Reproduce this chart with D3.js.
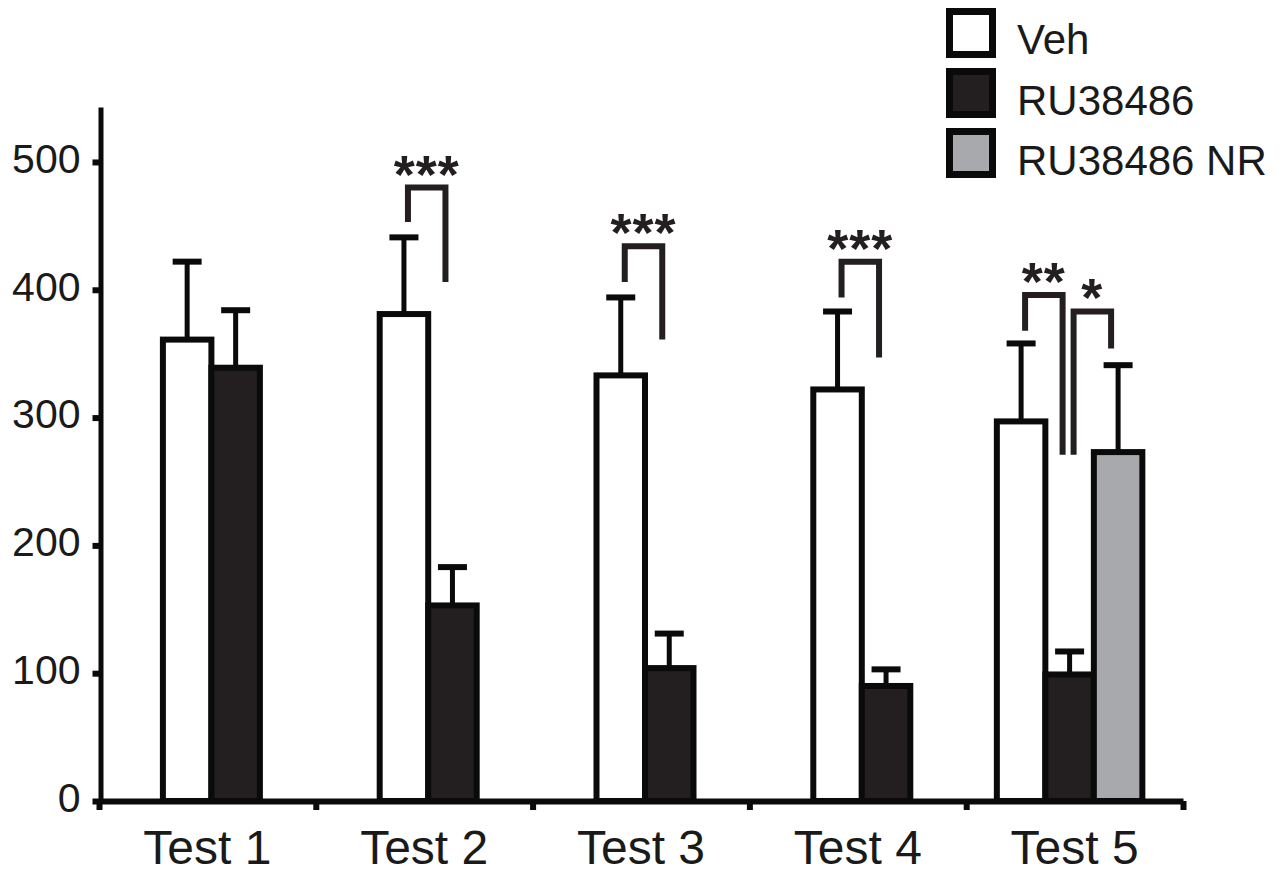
<!DOCTYPE html>
<html>
<head>
<meta charset="utf-8">
<script src="https://cdnjs.cloudflare.com/ajax/libs/d3/7.8.5/d3.min.js"></script>
<style>
  html, body { margin: 0; padding: 0; background: #fff; }
  svg text { font-family: "Liberation Sans", Arial, Helvetica, sans-serif; }
</style>
</head>
<body>
<div id="chart"></div>
<script>
// categories / series
const tests = ['Test 1', 'Test 2', 'Test 3', 'Test 4', 'Test 5'];
const seriesNames = ['Veh', 'RU38486', 'RU38486 NR'];

// means and upper error (SEM)
const vehMean = [361, 381, 333, 322, 297];
const vehSem  = [61, 60, 61, 61, 61];
const ruMean  = [339, 153, 104, 90, 99];
const ruSem   = [45, 30, 27, 13, 18];
const nrMean  = [null, null, null, null, 273];
const nrSem   = [null, null, null, null, 68];

const yTicks = [0, 100, 200, 300, 400, 500];

// significance brackets: test index, bars a->b, top level, leg ends, label
const sigTest  = [1, 2, 3, 4, 4];
const sigFrom  = [0, 0, 0, 0, 1];
const sigTo    = [1, 1, 1, 1, 2];
const sigTop   = [480, 434, 422, 396, 383];
const sigLeft  = [453, 406, 394, 368, 271];
const sigRight = [406, 361, 347, 271, 354];
const sigLabel = ['***', '***', '***', '**', '*'];

const fills = ['#ffffff', '#231f20', '#a7a9ac'];
const ink = '#0a0a0a';
const bracketInk = '#231f20';

const W = 1287, H = 873;
const barStep = 48.5;

const svg = d3.select('#chart').append('svg')
  .attr('width', W)
  .attr('height', H);

const x = d3.scaleBand().domain(tests).range([99, 1183]).padding(0);
const xb = d3.scaleLinear().domain([0, tests.length]).range([99, 1183]);
const y = d3.scaleLinear().domain([0, 543]).range([801, 107]);

// build bar table from the arrays
const means = [vehMean, ruMean, nrMean];
const sems = [vehSem, ruSem, nrSem];
const bars = [];
tests.forEach((t, i) => {
  const present = [0, 1, 2].filter(s => means[s][i] != null);
  const n = present.length;
  // two-bar groups sit a bit right of centre, the three-bar group a bit left
  const c = x(t) + x.bandwidth() / 2 + (n === 2 ? 4 : -5);
  present.forEach((s, k) => {
    bars.push({
      test: i, series: s,
      x0: c - n * barStep / 2 + k * barStep,
      mean: means[s][i], sem: sems[s][i]
    });
  });
});
const barCenter = (ti, s) => {
  const b = bars.find(d => d.test === ti && d.series === s);
  return b.x0 + barStep / 2;
};

// error bars (drawn first, bar covers bottom)
const eb = svg.append('g').attr('class', 'errorbars');
eb.selectAll('line.v').data(bars).enter().append('line')
  .attr('class', 'v')
  .attr('x1', d => d.x0 + barStep / 2)
  .attr('x2', d => d.x0 + barStep / 2)
  .attr('y1', d => y(d.mean))
  .attr('y2', d => y(d.mean + d.sem))
  .attr('stroke', ink)
  .attr('stroke-width', 5);
eb.selectAll('line.cap').data(bars).enter().append('line')
  .attr('class', 'cap')
  .attr('x1', d => d.x0 + barStep / 2 - 14.5)
  .attr('x2', d => d.x0 + barStep / 2 + 14.5)
  .attr('y1', d => y(d.mean + d.sem))
  .attr('y2', d => y(d.mean + d.sem))
  .attr('stroke', ink)
  .attr('stroke-width', 6);

// bars
svg.append('g').attr('class', 'bars')
  .selectAll('rect').data(bars).enter().append('rect')
  .attr('x', d => d.x0)
  .attr('y', d => y(d.mean))
  .attr('width', barStep)
  .attr('height', d => y(0) - y(d.mean))
  .attr('fill', d => fills[d.series])
  .attr('stroke', ink)
  .attr('stroke-width', 6);

// y axis
const yAxis = svg.append('g')
  .attr('class', 'y axis')
  .attr('transform', 'translate(100.5,0)')
  .call(d3.axisLeft(y).tickValues(yTicks).tickSize(8).tickSizeOuter(0).tickPadding(12));
yAxis.select('.domain').attr('stroke', ink).attr('stroke-width', 5);
yAxis.selectAll('.tick line').attr('stroke', ink).attr('stroke-width', 6);
yAxis.selectAll('.tick text')
  .attr('fill', '#1a1a1a')
  .attr('dy', '0.25em')
  .style('font-size', '41px')
  .style('font-family', '"Liberation Sans", Arial, sans-serif');

// x axis: boundary ticks
const xAxisB = svg.append('g')
  .attr('class', 'x axis')
  .attr('transform', 'translate(0,801)')
  .call(d3.axisBottom(xb).ticks(tests.length).tickSize(9).tickSizeOuter(0).tickFormat(''));
xAxisB.select('.domain').attr('stroke', ink).attr('stroke-width', 6);
xAxisB.selectAll('.tick line').attr('stroke', ink).attr('stroke-width', 6);

// x axis: category labels
const xAxisL = svg.append('g')
  .attr('transform', 'translate(0,801)')
  .call(d3.axisBottom(x).tickSize(0).tickPadding(29));
xAxisL.select('.domain').remove();
xAxisL.selectAll('.tick text')
  .attr('fill', '#1a1a1a')
  .style('font-size', '48px')
  .style('font-family', '"Liberation Sans", Arial, sans-serif');

// significance brackets
const sig = sigTest.map((t, i) => ({
  xl: barCenter(t, sigFrom[i]) + 4,
  xr: barCenter(t, sigTo[i]) - 7,
  top: sigTop[i], left: sigLeft[i], right: sigRight[i], label: sigLabel[i]
}));
const sg = svg.append('g').attr('class', 'sig');
sg.selectAll('path').data(sig).enter().append('path')
  .attr('d', d => 'M' + d.xl + ',' + y(d.left) + 'V' + y(d.top) + 'H' + d.xr + 'V' + y(d.right))
  .attr('fill', 'none')
  .attr('stroke', bracketInk)
  .attr('stroke-width', 6)
  .attr('stroke-linejoin', 'miter');
sg.selectAll('text').data(sig).enter().append('text')
  .attr('x', d => (d.xl + d.xr) / 2)
  .attr('y', d => y(d.top) + 5)
  .attr('text-anchor', 'middle')
  .attr('fill', bracketInk)
  .style('font-size', '54px')
  .style('font-weight', 'bold')
  .style('letter-spacing', '1px')
  .text(d => d.label);

// legend
const lg = svg.append('g').attr('class', 'legend');
lg.selectAll('rect').data(seriesNames).enter().append('rect')
  .attr('x', 949.5)
  .attr('y', (d, i) => 11.5 + i * 60)
  .attr('width', 43)
  .attr('height', 43)
  .attr('fill', (d, i) => fills[i])
  .attr('stroke', ink)
  .attr('stroke-width', 7);
lg.selectAll('text').data(seriesNames).enter().append('text')
  .attr('x', 1017)
  .attr('y', (d, i) => 54 + i * 60.5)
  .attr('fill', '#1a1a1a')
  .style('font-size', '42px')
  .text(d => d);
</script>
</body>
</html>
